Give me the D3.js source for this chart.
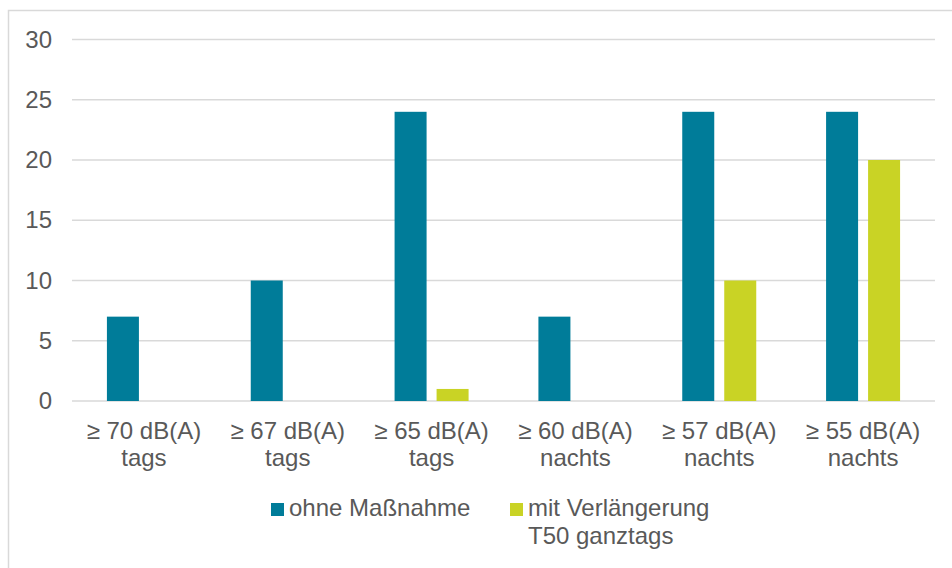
<!DOCTYPE html>
<html>
<head>
<meta charset="utf-8">
<script src="https://cdn.jsdelivr.net/npm/d3@7"></script>
<style>
  body { margin: 0; background: #fff; }
  svg { display: block; font-family: "Liberation Sans", Arial, sans-serif; }
</style>
</head>
<body>
<svg id="chart"></svg>
<script>
// data
const categories = [
    ['≥ 70 dB(A)', 'tags'],
    ['≥ 67 dB(A)', 'tags'],
    ['≥ 65 dB(A)', 'tags'],
    ['≥ 60 dB(A)', 'nachts'],
    ['≥ 57 dB(A)', 'nachts'],
    ['≥ 55 dB(A)', 'nachts']
];
const seriesNames = [['ohne Maßnahme'], ['mit Verlängerung', 'T50 ganztags']];
const ohneMassnahme = [7, 10, 24, 7, 24, 24];
const mitVerlaengerung = [0, 0, 1, 0, 10, 20];
const yTicks = [0, 5, 10, 15, 20, 25, 30];
const colors = ['#007c99', '#c9d325'];

const width = 952, height = 568;
const margin = {top: 39.5, right: 17, bottom: 167, left: 72};
const textColor = '#595959';

const svg = d3.select('#chart')
    .attr('width', width)
    .attr('height', height);

// outer frame (only left and top edges visible)
svg.append('rect')
    .attr('x', 8.5).attr('y', 10.5)
    .attr('width', 1000).attr('height', 1000)
    .attr('fill', 'none')
    .attr('stroke', '#d9d9d9')
    .attr('stroke-width', 1.5);

const innerW = width - margin.left - margin.right;
const innerH = height - margin.top - margin.bottom;

const chart = svg.append('g')
    .attr('transform', `translate(${margin.left}, ${margin.top})`);

const keys = categories.map((c, i) => i);
const x0 = d3.scaleBand().domain(keys).range([0, innerW]).padding(0);
const groupW = 74;
const x1 = d3.scaleBand().domain([0, 1]).range([0, groupW]).paddingInner(0.238).paddingOuter(0);
const y = d3.scaleLinear().domain([0, 30]).range([innerH, 0]);

// gridlines
chart.append('g')
    .selectAll('line')
    .data(yTicks)
    .join('line')
    .attr('x1', 0).attr('x2', innerW)
    .attr('y1', d => y(d)).attr('y2', d => y(d))
    .attr('stroke', '#d9d9d9')
    .attr('stroke-width', 1.5);

// y axis labels
const yaxis = d3.axisLeft(y).tickValues(yTicks).tickSize(0).tickPadding(20);
chart.append('g')
    .call(yaxis)
    .call(g => g.select('.domain').remove())
    .call(g => g.selectAll('text')
        .attr('fill', textColor)
        .style('font-size', '24px')
        .style('font-family', '"Liberation Sans", Arial, sans-serif'));

// bars
const rows = keys.map(i => ({i, vals: [ohneMassnahme[i], mitVerlaengerung[i]]}));
const groups = chart.selectAll('.grp')
    .data(rows)
    .join('g')
    .attr('class', 'grp')
    .attr('transform', d => `translate(${x0(d.i) + (x0.bandwidth() - groupW) / 2}, 0)`);

groups.selectAll('rect')
    .data(d => d.vals.map((v, s) => ({v, s})).filter(e => e.v > 0))
    .join('rect')
    .attr('x', d => x1(d.s))
    .attr('y', d => y(d.v))
    .attr('width', x1.bandwidth())
    .attr('height', d => y(0) - y(d.v))
    .attr('fill', d => colors[d.s]);

// category labels
const xlab = chart.append('g')
    .attr('transform', `translate(0, ${innerH})`);
xlab.selectAll('text')
    .data(rows)
    .join('text')
    .attr('x', d => x0(d.i) + x0.bandwidth() / 2)
    .attr('y', 38)
    .attr('text-anchor', 'middle')
    .attr('fill', textColor)
    .style('font-size', '24px')
    .each(function (d) {
        const t = d3.select(this);
        categories[d.i].forEach((line, k) => {
            t.append('tspan')
                .attr('x', x0(d.i) + x0.bandwidth() / 2)
                .attr('dy', k === 0 ? 0 : 27)
                .text(line);
        });
    });

// legend
const legendPos = [271, 510];
const legend = svg.append('g');
seriesNames.forEach((name, s) => {
    legend.append('rect')
        .attr('x', legendPos[s]).attr('y', 503)
        .attr('width', 13).attr('height', 13)
        .attr('fill', colors[s]);
    const t = legend.append('text')
        .attr('x', legendPos[s] + 18)
        .attr('y', 516)
        .attr('fill', textColor)
        .style('font-size', '24px');
    name.forEach((line, k) => {
        t.append('tspan')
            .attr('x', legendPos[s] + 18)
            .attr('dy', k === 0 ? 0 : 28)
            .text(line);
    });
});
</script>
</body>
</html>
